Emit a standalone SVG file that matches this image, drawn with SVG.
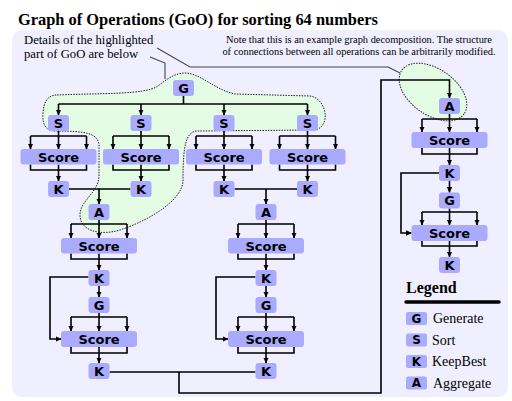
<svg xmlns="http://www.w3.org/2000/svg" width="512" height="401" viewBox="0 0 512 401">
<style>
.n{fill:#aaaaff}
.t{font-family:"DejaVu Sans",sans-serif;font-weight:bold;font-size:13px;text-anchor:middle;fill:#000}
.lt{font-family:"DejaVu Sans",sans-serif;font-weight:bold;font-size:12px;text-anchor:middle;fill:#000}
.c{fill:none;stroke:#000;stroke-width:1.6}
.a{fill:none;stroke:#000;stroke-width:1.6;marker-end:url(#ah)}
.call{fill:none;stroke:#444;stroke-width:1.1}
.serif{font-family:"Liberation Serif",serif;fill:#000}
.blob{fill:#e4fce4;stroke:#222;stroke-width:1;stroke-dasharray:1.5 1.2}
</style>
<defs>
<marker id="ah" markerWidth="6" markerHeight="6" refX="5.5" refY="3" orient="auto" markerUnits="userSpaceOnUse"><path d="M0,0.3 L6,3 L0,5.7 z" fill="#000"/></marker>
</defs>
<text class="serif" x="18" y="25" font-size="16.4" font-weight="bold">Graph of Operations (GoO) for sorting 64 numbers</text>
<rect x="12" y="30" width="496" height="367" rx="10" fill="#efefff"/>
<g id="highlight">
<path class="blob" d="M57,95 C100,93 145,95 158,86 C168,78 176,73 185,73 C200,73 215,90 235,94 L310,96 C326,98 332,126 315,130 L196,131 C186,133 183,145 183,180 C183,200 150,220 120,230 C100,236 80,231 80,215 C80,200 99,193 99,175 L99,145 C98,133 85,131 55,131 C41,131 42,116 44,106 C46,98 51,95 57,95 Z"/>
<ellipse class="blob" cx="433" cy="92" rx="38" ry="23" transform="rotate(35 433 92)"/>
</g>
<g id="callouts">
<text class="serif" font-size="12.7"><tspan x="24" y="43.5">Details of the highlighted</tspan><tspan x="24" y="57.5">part of GoO are below</tspan></text>
<path class="call" d="M150,57 L165,63 V79"/>
<path class="call" d="M157,48 L190,67 H388 L400,73"/>
<text class="serif" font-size="10.4" text-anchor="middle"><tspan x="359" y="43.4">Note that this is an example graph decomposition. The structure</tspan><tspan x="359" y="55">of connections between all operations can be arbitrarily modified.</tspan></text>
</g>
<g id="connectors">
<path class="c" d="M183.5,96 V104 M58.5,104 H307.5"/>
<path class="a" d="M58.5,104 V115"/><path class="a" d="M141,104 V115"/><path class="a" d="M224,104 V115"/><path class="a" d="M307.5,104 V115"/>
<path class="c" d="M58.5,131 V136 M30.5,136 H86.5 M141,131 V136 M113,136 H169 M224,131 V136 M196,136 H252 M307.5,131 V136 M279.5,136 H335.5"/>
<path class="a" d="M30.5,136 V149"/><path class="a" d="M58.5,136 V149"/><path class="a" d="M86.5,136 V149"/>
<path class="a" d="M113,136 V149"/><path class="a" d="M141,136 V149"/><path class="a" d="M169,136 V149"/>
<path class="a" d="M196,136 V149"/><path class="a" d="M224,136 V149"/><path class="a" d="M252,136 V149"/>
<path class="a" d="M279.5,136 V149"/><path class="a" d="M307.5,136 V149"/><path class="a" d="M335.5,136 V149"/>
<path class="c" d="M30.5,164.5 V170 H86.5 V164.5 M113,164.5 V170 H169 V164.5 M196,164.5 V170 H252 V164.5 M279.5,164.5 V170 H335.5 V164.5"/>
<path class="a" d="M58.5,164.5 V181"/><path class="a" d="M141,164.5 V181"/><path class="a" d="M224,164.5 V181"/><path class="a" d="M307.5,164.5 V181"/>
<path class="c" d="M69,189 H130.5 M234.5,189 H297"/>
<path class="a" d="M99,189 V204"/><path class="a" d="M266,189 V204"/>
<path class="c" d="M99,220 V224 M71,224 H127 M266,220 V224 M238,224 H294"/>
<path class="a" d="M71,224 V238"/><path class="a" d="M99,224 V238"/><path class="a" d="M127,224 V238"/>
<path class="a" d="M238,224 V238"/><path class="a" d="M266,224 V238"/><path class="a" d="M294,224 V238"/>
<path class="c" d="M71,253.5 V259 H127 V253.5 M238,253.5 V259 H294 V253.5"/>
<path class="a" d="M99,253.5 V270"/><path class="a" d="M266,253.5 V270"/>
<path class="a" d="M99,286 V297"/><path class="a" d="M266,286 V297"/>
<path class="c" d="M99,313 V317 M71,317 H127 M266,313 V317 M238,317 H294"/>
<path class="a" d="M71,317 V331"/><path class="a" d="M99,317 V331"/><path class="a" d="M127,317 V331"/>
<path class="a" d="M238,317 V331"/><path class="a" d="M266,317 V331"/><path class="a" d="M294,317 V331"/>
<path class="a" d="M88.5,277 H50 V339 H61"/>
<path class="a" d="M255.5,277 H216 V339 H228"/>
<path class="c" d="M71,347 V353 H127 V347 M238,347 V353 H294 V347"/>
<path class="a" d="M99,347 V363"/><path class="a" d="M266,347 V363"/>
<path class="c" d="M109.5,372 H255.5"/>
<path class="a" d="M179,372 V393 H381 V80 H449.5 V98"/>
<path class="c" d="M449.5,114 V119 M422,119 H477"/>
<path class="a" d="M422,119 V132"/><path class="a" d="M449.5,119 V132"/><path class="a" d="M477,119 V132"/>
<path class="c" d="M422,148 V154 H477 V148"/>
<path class="a" d="M449.5,148 V165"/><path class="a" d="M449.5,181 V192.5"/>
<path class="c" d="M449.5,208.5 V212 M422,212 H477"/>
<path class="a" d="M422,212 V225"/><path class="a" d="M449.5,212 V225"/><path class="a" d="M477,212 V225"/>
<path class="a" d="M439,173 H401 V233 H411.5"/>
<path class="c" d="M422,241 V246 H477 V241"/>
<path class="a" d="M449.5,241 V257"/>
</g>
<g id="G1"><rect class="n" x="173" y="80" width="21" height="16" rx="3"/><text class="t" x="183.5" y="92.7">G</text></g>
<g id="S1"><rect class="n" x="48" y="115" width="21" height="16" rx="3"/><text class="t" x="58.5" y="127.7">S</text></g>
<g id="S2"><rect class="n" x="130.5" y="115" width="21" height="16" rx="3"/><text class="t" x="141" y="127.7">S</text></g>
<g id="S3"><rect class="n" x="213.5" y="115" width="21" height="16" rx="3"/><text class="t" x="224" y="127.7">S</text></g>
<g id="S4"><rect class="n" x="297" y="115" width="21" height="16" rx="3"/><text class="t" x="307.5" y="127.7">S</text></g>
<g id="Score1"><rect class="n" x="20.5" y="149" width="76" height="15.5" rx="3"/><text class="t" x="58.5" y="161.5">Score</text></g>
<g id="Score2"><rect class="n" x="103" y="149" width="76" height="15.5" rx="3"/><text class="t" x="141" y="161.5">Score</text></g>
<g id="Score3"><rect class="n" x="186" y="149" width="76" height="15.5" rx="3"/><text class="t" x="224" y="161.5">Score</text></g>
<g id="Score4"><rect class="n" x="269.5" y="149" width="76" height="15.5" rx="3"/><text class="t" x="307.5" y="161.5">Score</text></g>
<g id="K1"><rect class="n" x="48" y="181" width="21" height="16" rx="3"/><text class="t" x="58.5" y="193.7">K</text></g>
<g id="K2"><rect class="n" x="130.5" y="181" width="21" height="16" rx="3"/><text class="t" x="141" y="193.7">K</text></g>
<g id="K3"><rect class="n" x="213.5" y="181" width="21" height="16" rx="3"/><text class="t" x="224" y="193.7">K</text></g>
<g id="K4"><rect class="n" x="297" y="181" width="21" height="16" rx="3"/><text class="t" x="307.5" y="193.7">K</text></g>
<g id="A1"><rect class="n" x="88.5" y="204" width="21" height="16" rx="3"/><text class="t" x="99" y="216.7">A</text></g>
<g id="A2"><rect class="n" x="255.5" y="204" width="21" height="16" rx="3"/><text class="t" x="266" y="216.7">A</text></g>
<g id="Score5"><rect class="n" x="61" y="238" width="76" height="15.5" rx="3"/><text class="t" x="99" y="250.5">Score</text></g>
<g id="Score6"><rect class="n" x="228" y="238" width="76" height="15.5" rx="3"/><text class="t" x="266" y="250.5">Score</text></g>
<g id="K5"><rect class="n" x="88.5" y="270" width="21" height="16" rx="3"/><text class="t" x="99" y="282.7">K</text></g>
<g id="K6"><rect class="n" x="255.5" y="270" width="21" height="16" rx="3"/><text class="t" x="266" y="282.7">K</text></g>
<g id="G2"><rect class="n" x="88.5" y="297" width="21" height="16" rx="3"/><text class="t" x="99" y="309.7">G</text></g>
<g id="G3"><rect class="n" x="255.5" y="297" width="21" height="16" rx="3"/><text class="t" x="266" y="309.7">G</text></g>
<g id="Score7"><rect class="n" x="61" y="331" width="76" height="16" rx="3"/><text class="t" x="99" y="343.7">Score</text></g>
<g id="Score8"><rect class="n" x="228" y="331" width="76" height="16" rx="3"/><text class="t" x="266" y="343.7">Score</text></g>
<g id="K7"><rect class="n" x="88.5" y="363" width="21" height="16" rx="3"/><text class="t" x="99" y="375.7">K</text></g>
<g id="K8"><rect class="n" x="255.5" y="363" width="21" height="16" rx="3"/><text class="t" x="266" y="375.7">K</text></g>
<g id="A3"><rect class="n" x="439" y="98" width="21" height="16" rx="3"/><text class="t" x="449.5" y="110.7">A</text></g>
<g id="Score9"><rect class="n" x="411.5" y="132" width="76" height="16" rx="3"/><text class="t" x="449.5" y="144.7">Score</text></g>
<g id="K9"><rect class="n" x="439" y="165" width="21" height="16" rx="3"/><text class="t" x="449.5" y="177.7">K</text></g>
<g id="G4"><rect class="n" x="439" y="192.5" width="21" height="16" rx="3"/><text class="t" x="449.5" y="205.2">G</text></g>
<g id="Score10"><rect class="n" x="411.5" y="225" width="76" height="16" rx="3"/><text class="t" x="449.5" y="237.7">Score</text></g>
<g id="K10"><rect class="n" x="439" y="257" width="21" height="16" rx="3"/><text class="t" x="449.5" y="269.7">K</text></g>
<g id="legend">
<text class="serif" x="406" y="293" font-size="16" font-weight="bold">Legend</text>
<line x1="406" y1="302" x2="499" y2="302" stroke="#000" stroke-width="3.5" stroke-linecap="round"/>
<rect class="n" x="406" y="312" width="21" height="13" rx="2"/><text class="lt" x="416.5" y="322.8">G</text><text class="serif" x="433" y="323" font-size="14">Generate</text>
<rect class="n" x="406" y="333.5" width="21" height="13" rx="2"/><text class="lt" x="416.5" y="344.3">S</text><text class="serif" x="432" y="344.5" font-size="14">Sort</text>
<rect class="n" x="406" y="355" width="21" height="13" rx="2"/><text class="lt" x="416.5" y="365.8">K</text><text class="serif" x="432" y="366" font-size="14">KeepBest</text>
<rect class="n" x="406" y="376.5" width="21" height="13" rx="2"/><text class="lt" x="416.5" y="387.3">A</text><text class="serif" x="433" y="387.5" font-size="14">Aggregate</text>
</g>
</svg>
